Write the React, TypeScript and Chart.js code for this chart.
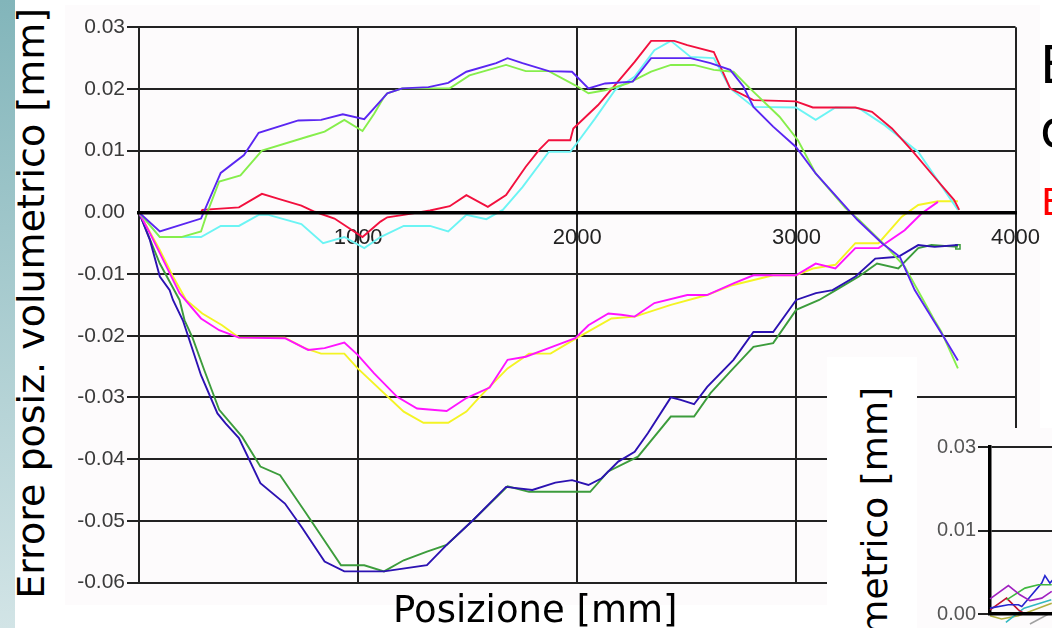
import React, { useEffect, useRef } from 'react';
import { Chart, registerables } from 'chart.js';
Chart.register(...registerables);

type P = [number, number];

// ---------- main chart data (x: Posizione [mm], y: errore [mm]) ----------
const xTickValues = [0, 1000, 2000, 3000, 4000];
const yMin = -0.06;
const yMax = 0.03;
const yStep = 0.01;

const violet: P[] = [[0,0],[95,-0.0031],[283,-0.001],[373,0.0064],[479,0.0093],[546,0.0129],[727,0.0149],[831,0.015],[930,0.0159],[1028,0.0151],[1118,0.0187],[1133,0.0193],[1201,0.0201],[1321,0.0203],[1411,0.021],[1494,0.0228],[1630,0.0242],[1682,0.025],[1750,0.0242],[1870,0.0229],[1976,0.0228],[2051,0.0201],[2127,0.0209],[2253,0.0212],[2337,0.025],[2517,0.025],[2608,0.0242],[2698,0.0231],[2758,0.0204],[2804,0.0171],[2894,0.0139],[2998,0.0106],[3088,0.0063],[3278,-0.0012],[3391,-0.005],[3472,-0.0072],[3540,-0.0126],[3676,-0.0204],[3737,-0.024]];
const lightGreen: P[] = [[0,0],[95,-0.004],[193,-0.004],[283,-0.0031],[312,0],[366,0.005],[463,0.006],[561,0.01],[772,0.0123],[847,0.0131],[937,0.015],[1020,0.0132],[1073,0.016],[1118,0.0187],[1133,0.0193],[1201,0.0201],[1418,0.0201],[1508,0.0222],[1675,0.0239],[1765,0.0229],[1870,0.0229],[1991,0.0206],[2051,0.0193],[2127,0.0198],[2231,0.0209],[2337,0.0228],[2427,0.0239],[2533,0.0239],[2623,0.0231],[2713,0.0228],[2788,0.0201],[2923,0.0155],[3007,0.0117],[3088,0.0063],[3224,0.0007],[3285,-0.0012],[3404,-0.0053],[3494,-0.0088],[3630,-0.0175],[3661,-0.0193],[3737,-0.0253]];
const red: P[] = [[0,0],[283,0],[289,0.0004],[456,0.0008],[561,0.003],[637,0.0022],[741,0.0011],[802,0.0001],[892,-0.001],[1020,-0.004],[1102,-0.0015],[1133,-0.0008],[1208,-0.0004],[1328,0.0003],[1418,0.001],[1494,0.0028],[1592,0.0009],[1675,0.0028],[1765,0.0074],[1825,0.0101],[1870,0.0117],[1968,0.0117],[1982,0.0136],[2095,0.0174],[2262,0.0244],[2337,0.0278],[2442,0.0278],[2502,0.0271],[2623,0.026],[2698,0.0201],[2804,0.0182],[2998,0.018],[3075,0.017],[3269,0.017],[3345,0.0163],[3436,0.0136],[3526,0.0101],[3616,0.0063],[3720,0.002],[3743,0.0004]];
const cyan: P[] = [[0,0],[95,-0.004],[283,-0.004],[373,-0.0022],[456,-0.0022],[546,-0.0004],[591,-0.0004],[741,-0.0019],[840,-0.005],[937,-0.004],[1028,-0.0058],[1102,-0.004],[1208,-0.0022],[1328,-0.0022],[1411,-0.0031],[1494,-0.0004],[1585,-0.0011],[1660,0.0004],[1750,0.0041],[1870,0.0098],[1968,0.0098],[1998,0.0112],[2081,0.0152],[2172,0.0198],[2262,0.022],[2352,0.0263],[2427,0.0278],[2517,0.0252],[2623,0.025],[2698,0.0201],[2804,0.0171],[2998,0.017],[3088,0.015],[3178,0.017],[3285,0.0169],[3404,0.0141],[3556,0.0098],[3737,0.0004]];
const magenta: P[] = [[0,0],[50,-0.0034],[95,-0.0066],[185,-0.0131],[283,-0.0172],[366,-0.0191],[456,-0.0203],[666,-0.0204],[772,-0.0223],[847,-0.022],[937,-0.0211],[998,-0.0231],[1073,-0.0261],[1178,-0.0299],[1269,-0.0318],[1404,-0.0322],[1494,-0.0301],[1600,-0.0284],[1682,-0.0239],[1765,-0.0234],[1885,-0.0218],[1991,-0.0204],[2051,-0.0183],[2142,-0.0164],[2201,-0.0166],[2262,-0.0169],[2352,-0.0147],[2502,-0.0134],[2592,-0.0134],[2713,-0.0115],[2804,-0.0102],[2998,-0.0102],[3088,-0.0083],[3178,-0.0091],[3269,-0.0058],[3375,-0.0058],[3494,-0.0029],[3571,-0.0002],[3646,0.0017]];
const yellow: P[] = [[0,0],[95,-0.0061],[155,-0.0104],[215,-0.0142],[289,-0.0164],[379,-0.0183],[456,-0.0203],[666,-0.0203],[756,-0.022],[831,-0.0229],[937,-0.0229],[998,-0.0253],[1208,-0.0323],[1298,-0.0341],[1411,-0.0341],[1494,-0.0323],[1555,-0.0299],[1682,-0.0253],[1780,-0.0229],[1878,-0.0229],[1991,-0.0205],[2156,-0.0172],[2262,-0.0169],[2427,-0.015],[2592,-0.0134],[2698,-0.0119],[2894,-0.0102],[2998,-0.0102],[3075,-0.0091],[3178,-0.0085],[3269,-0.005],[3375,-0.005],[3481,-0.0007],[3556,0.0012],[3646,0.0018],[3737,0.0018]];
const darkBlue: P[] = [[0,0],[50,-0.0045],[95,-0.0104],[140,-0.0126],[155,-0.0142],[200,-0.0175],[230,-0.0207],[283,-0.0264],[358,-0.0326],[395,-0.0342],[456,-0.0366],[554,-0.0439],[666,-0.0472],[742,-0.051],[847,-0.0566],[937,-0.0582],[1118,-0.0582],[1314,-0.0572],[1404,-0.0539],[1524,-0.0499],[1675,-0.0445],[1795,-0.045],[1900,-0.0438],[1976,-0.0434],[2051,-0.0442],[2111,-0.0431],[2187,-0.0404],[2262,-0.0388],[2322,-0.0358],[2427,-0.03],[2472,-0.0304],[2533,-0.0311],[2593,-0.0283],[2713,-0.0239],[2804,-0.0194],[2894,-0.0194],[2999,-0.0142],[3089,-0.0131],[3165,-0.0126],[3270,-0.0104],[3360,-0.0075],[3465,-0.0072],[3556,-0.0053],[3631,-0.0056],[3737,-0.0053]];
const darkGreen: P[] = [[0,0],[95,-0.0083],[185,-0.0142],[208,-0.0175],[245,-0.0204],[298,-0.0256],[366,-0.032],[471,-0.0364],[554,-0.0412],[644,-0.0426],[757,-0.0485],[922,-0.0572],[1028,-0.0572],[1118,-0.0582],[1208,-0.0564],[1314,-0.055],[1404,-0.0539],[1524,-0.0499],[1682,-0.0444],[1780,-0.0453],[2059,-0.0453],[2141,-0.042],[2277,-0.0396],[2427,-0.0331],[2533,-0.0331],[2608,-0.0293],[2698,-0.0258],[2804,-0.0218],[2894,-0.0212],[2999,-0.0158],[3104,-0.0142],[3180,-0.0126],[3285,-0.0104],[3368,-0.0083],[3465,-0.0091],[3556,-0.0058],[3616,-0.0053],[3737,-0.0056]];

// ---------- inset chart data (partially visible) ----------
const insetTickValues = [0, 0.01, 0.02];
const insetTickLabels = ['0.00', '0.01', '0.03'];
const insetPurple: P[] = [[0,0.0018],[8.1,0.0034],[13.2,0.0023],[17.6,0.0016],[22.8,0.0019],[27.2,0.0027]];
const insetGreen: P[] = [[7.3,0.0017],[15.4,0.0031],[21.3,0.0035],[27.2,0.0035]];
const insetBlue: P[] = [[0,0.0007],[8.1,0.0011],[12.5,0.0011],[14,0.0009],[22.8,0.0037],[24.2,0.0046],[26.4,0.0037],[28,0.0042]];
const insetRed: P[] = [[0,0.0005],[7.3,0.0019],[12.5,0.0005],[15.4,0]];
const insetCyan: P[] = [[7,-0.001],[15,0.0007],[27,0.0017]];
const insetOlive: P[] = [[0,-0.0002],[5.1,-0.0006],[12.5,-0.0002],[18.4,0.0004],[27.2,0.0013]];
const insetGrey: P[] = [[17.6,-0.0012],[27.2,0.0002]];

const mainSeries = [
  { name: 'violet', pts: violet, color: '#5a26f2' },
  { name: 'lightGreen', pts: lightGreen, color: '#86ee4c' },
  { name: 'red', pts: red, color: '#f2103e' },
  { name: 'cyan', pts: cyan, color: '#6cf4f4' },
  { name: 'magenta', pts: magenta, color: '#ff14ff' },
  { name: 'yellow', pts: yellow, color: '#f4f424' },
  { name: 'darkBlue', pts: darkBlue, color: '#2c12b2' },
  { name: 'darkGreen', pts: darkGreen, color: '#3c9c3c' },
];

const insetSeries = [
  { name: 'purple', pts: insetPurple, color: '#a020c0' },
  { name: 'green', pts: insetGreen, color: '#40b840' },
  { name: 'blue', pts: insetBlue, color: '#2424d0' },
  { name: 'red', pts: insetRed, color: '#c01030' },
  { name: 'cyan', pts: insetCyan, color: '#30b8c0' },
  { name: 'olive', pts: insetOlive, color: '#b0b040' },
  { name: 'grey', pts: insetGrey, color: '#a0a0a0' },
];

const GRID = '#222222';
const BG = '#fdfbfc';

export default function App() {
  const mainRef = useRef<HTMLCanvasElement>(null);
  const insetRef = useRef<HTMLCanvasElement>(null);

  useEffect(() => {
    const main = new Chart(mainRef.current!, {
      type: 'line',
      data: {
        datasets: mainSeries.map((s) => ({
          label: s.name,
          data: s.pts.map(([x, y]) => ({ x, y })),
          borderColor: s.color,
          backgroundColor: 'rgba(0,0,0,0)',
          borderWidth: 1.9,
          pointRadius: (ctx: any) => (s.name === 'darkGreen' && ctx.dataIndex === s.pts.length - 1 ? 3 : 0),
          pointStyle: 'rect',
          pointBorderColor: s.color,
          pointBorderWidth: 1.5,
          tension: 0,
          fill: false,
        })),
      },
      options: {
        animation: false,
        responsive: false,
        events: [],
        layout: { padding: { top: 22.3, bottom: 22.5, left: 0, right: 27 } },
        plugins: { legend: { display: false }, tooltip: { enabled: false } },
        scales: {
          x: {
            type: 'linear',
            min: 0,
            max: 4000,
            position: { y: 0 } as any,
            afterFit: (s: any) => { s.height = 0; },
            afterBuildTicks: (s: any) => { s.ticks = xTickValues.map((v) => ({ value: v })); },
            ticks: {
              callback: (v: any) => (Number(v) === 0 ? '' : String(v)),
              font: { family: "'Liberation Sans', Arial, sans-serif", size: 22 },
              color: '#222',
              padding: 12,
              maxRotation: 0,
              autoSkip: false,
            },
            grid: { color: GRID, lineWidth: 2, drawTicks: false },
            border: { display: true, color: '#000', width: 3.5, z: 1 },
          },
          y: {
            type: 'linear',
            min: yMin,
            max: yMax,
            afterFit: (s: any) => { s.width = 74; },
            ticks: {
              stepSize: yStep,
              callback: (v: any) => (Math.abs(Number(v)) < 1e-9 ? '0.00' : Number(v).toFixed(2)),
              font: { family: "'Liberation Sans', Arial, sans-serif", size: 21 },
              color: '#3a3a3a',
              padding: 2,
            },
            grid: {
              color: GRID,
              lineWidth: 2,
              tickLength: 12,
              tickColor: (ctx: any) => (ctx.tick && Math.abs(ctx.tick.value) < 1e-9 ? 'rgba(0,0,0,0)' : GRID),
            },
            border: { display: true, color: '#222', width: 2 },
          },
        },
      },
    });

    const inset = new Chart(insetRef.current!, {
      type: 'line',
      data: {
        datasets: insetSeries.map((s) => ({
          label: s.name,
          data: s.pts.map(([x, y]) => ({ x, y })),
          borderColor: s.color,
          borderWidth: 1.6,
          pointRadius: 0,
          tension: 0,
          fill: false,
          clip: false as any,
        })),
      },
      options: {
        animation: false,
        responsive: false,
        events: [],
        layout: { padding: { top: 19, bottom: 10, left: 0, right: 0 } },
        plugins: { legend: { display: false }, tooltip: { enabled: false } },
        scales: {
          x: {
            type: 'linear',
            min: 0,
            max: 100,
            afterFit: (s: any) => { s.height = 0; },
            ticks: { display: false },
            grid: { display: false },
            border: { display: true, color: '#000', width: 3.5, z: 1 },
          },
          y: {
            type: 'linear',
            min: 0,
            max: 0.02,
            afterFit: (s: any) => { s.width = 73; },
            afterBuildTicks: (s: any) => { s.ticks = insetTickValues.map((v) => ({ value: v })); },
            ticks: {
              callback: (_v: any, i: number) => insetTickLabels[i],
              font: { family: "'Liberation Sans', Arial, sans-serif", size: 20 },
              color: '#555',
              padding: 2,
            },
            grid: { color: GRID, lineWidth: 2, tickLength: 12 },
            border: { display: true, color: '#000', width: 3.5 },
          },
        },
      },
    });

    return () => {
      main.destroy();
      inset.destroy();
    };
  }, []);

  const titleFont = "'DejaVu Sans', Verdana, sans-serif";

  return (
    <div style={{ position: 'fixed', left: 0, top: 0, width: 1052, height: 628, overflow: 'hidden', background: '#fff' }}>
      {/* left teal stripe */}
      <div style={{ position: 'absolute', left: 0, top: 0, width: 15, height: 628, background: 'linear-gradient(#82b5ba, #d2e4e6)' }} />

      {/* main chart background */}
      <div style={{ position: 'absolute', left: 65, top: 5, width: 975, height: 600, background: BG }} />
      <canvas ref={mainRef} width={987} height={600} style={{ position: 'absolute', left: 65, top: 5, width: 987, height: 600 }} />

      {/* y axis title */}
      <div style={{ position: 'absolute', left: 13, top: 8, writingMode: 'vertical-rl', transform: 'rotate(180deg)', whiteSpace: 'nowrap', fontFamily: titleFont, fontSize: 38, lineHeight: '37px', color: '#000' }}>
        Errore posiz. volumetrico [mm]
      </div>

      {/* x axis title */}
      <div style={{ position: 'absolute', left: 393, top: 591, whiteSpace: 'nowrap', fontFamily: titleFont, fontSize: 37, lineHeight: '37px', color: '#000' }}>
        Posizione [mm]
      </div>

      {/* slide text on the right, cut by the page edge */}
      <div style={{ position: 'absolute', left: 1040, top: 39, fontFamily: titleFont, fontSize: 52, lineHeight: '52px', color: '#000', whiteSpace: 'nowrap' }}>E</div>
      <div style={{ position: 'absolute', left: 1040, top: 103, fontFamily: titleFont, fontSize: 52, lineHeight: '52px', color: '#000', whiteSpace: 'nowrap' }}>d</div>
      <div style={{ position: 'absolute', left: 1041, top: 183, fontFamily: titleFont, fontSize: 38, lineHeight: '38px', color: '#ff0000', whiteSpace: 'nowrap' }}>E</div>

      {/* overlapping second chart: y title fragment */}
      <div style={{ position: 'absolute', left: 827, top: 357, width: 90, height: 271, overflow: 'hidden', background: '#fff' }}>
        <div style={{ position: 'absolute', left: 30, top: 30, writingMode: 'vertical-rl', transform: 'rotate(180deg)', whiteSpace: 'nowrap', fontFamily: titleFont, fontSize: 36, lineHeight: '36px', color: '#000' }}>
          Errore posiz. volumetrico [mm]
        </div>
      </div>

      {/* overlapping second chart: plot */}
      <div style={{ position: 'absolute', left: 917, top: 428, width: 135, height: 200, background: BG }} />
      <canvas ref={insetRef} width={300} height={200} style={{ position: 'absolute', left: 917, top: 428, width: 300, height: 200 }} />
    </div>
  );
}
